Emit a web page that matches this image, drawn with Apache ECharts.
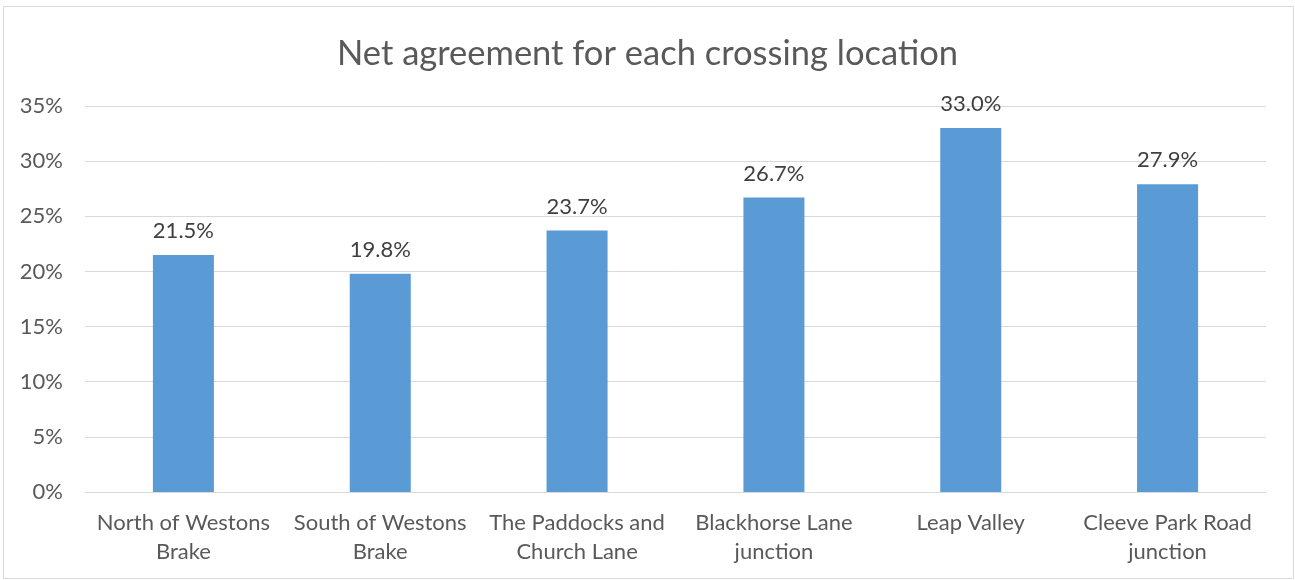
<!DOCTYPE html>
<html>
<head>
<meta charset="utf-8">
<script src="https://cdn.jsdelivr.net/npm/echarts@6/dist/echarts.min.js"></script>
<style>
  html, body { margin: 0; padding: 0; background: #fff; }
  #chart { width: 1295px; height: 580px; }
</style>
</head>
<body>
<div id="chart"></div>
<script>
// Crossing locations and their net agreement (percent)
const locations = [
  'North of Westons\nBrake',
  'South of Westons\nBrake',
  'The Paddocks and\nChurch Lane',
  'Blackhorse Lane\njunction',
  'Leap Valley',
  'Cleeve Park Road\njunction'
];
const netAgreement = [21.5, 19.8, 23.7, 26.7, 33.0, 27.9];
const yTicks = { min: 0, max: 35, step: 5 };

const fontFamily = 'Lato, "Open Sans", sans-serif';
const chart = echarts.init(document.getElementById('chart'), null, { renderer: 'canvas' });

chart.setOption({
  backgroundColor: '#ffffff',
  animation: false,
  title: {
    text: 'Net agreement for each crossing location',
    left: 'center',
    top: 31,
    textStyle: { fontFamily, fontSize: 34.5, fontWeight: 'normal', color: '#595959' }
  },
  graphic: [{
    type: 'rect',
    shape: { x: 3.5, y: 6.5, width: 1290, height: 572 },
    style: { fill: 'none', stroke: '#d9d9d9', lineWidth: 1 },
    silent: true,
    z: -1
  }],
  grid: { left: 85, right: 29, top: 106, bottom: 88, containLabel: false },
  xAxis: {
    type: 'category',
    data: locations,
    axisLine: { show: true, lineStyle: { color: '#d9d9d9', width: 1 } },
    axisTick: { show: false },
    axisLabel: {
      fontFamily, fontSize: 22, color: '#595959',
      lineHeight: 29, margin: 16, interval: 0
    }
  },
  yAxis: {
    type: 'value',
    min: yTicks.min,
    max: yTicks.max,
    interval: yTicks.step,
    axisLine: { show: false },
    axisTick: { show: false },
    splitLine: { lineStyle: { color: '#d9d9d9', width: 1 } },
    axisLabel: {
      fontFamily, fontSize: 22, color: '#595959', margin: 22,
      formatter: v => v + '%'
    }
  },
  series: [{
    type: 'bar',
    data: netAgreement,
    barWidth: '31%',
    itemStyle: { color: '#5b9bd5' },
    label: {
      show: true,
      position: 'top',
      distance: 13,
      fontFamily, fontSize: 22, color: '#404040',
      formatter: p => p.value.toFixed(1) + '%'
    }
  }]
});
</script>
</body>
</html>
